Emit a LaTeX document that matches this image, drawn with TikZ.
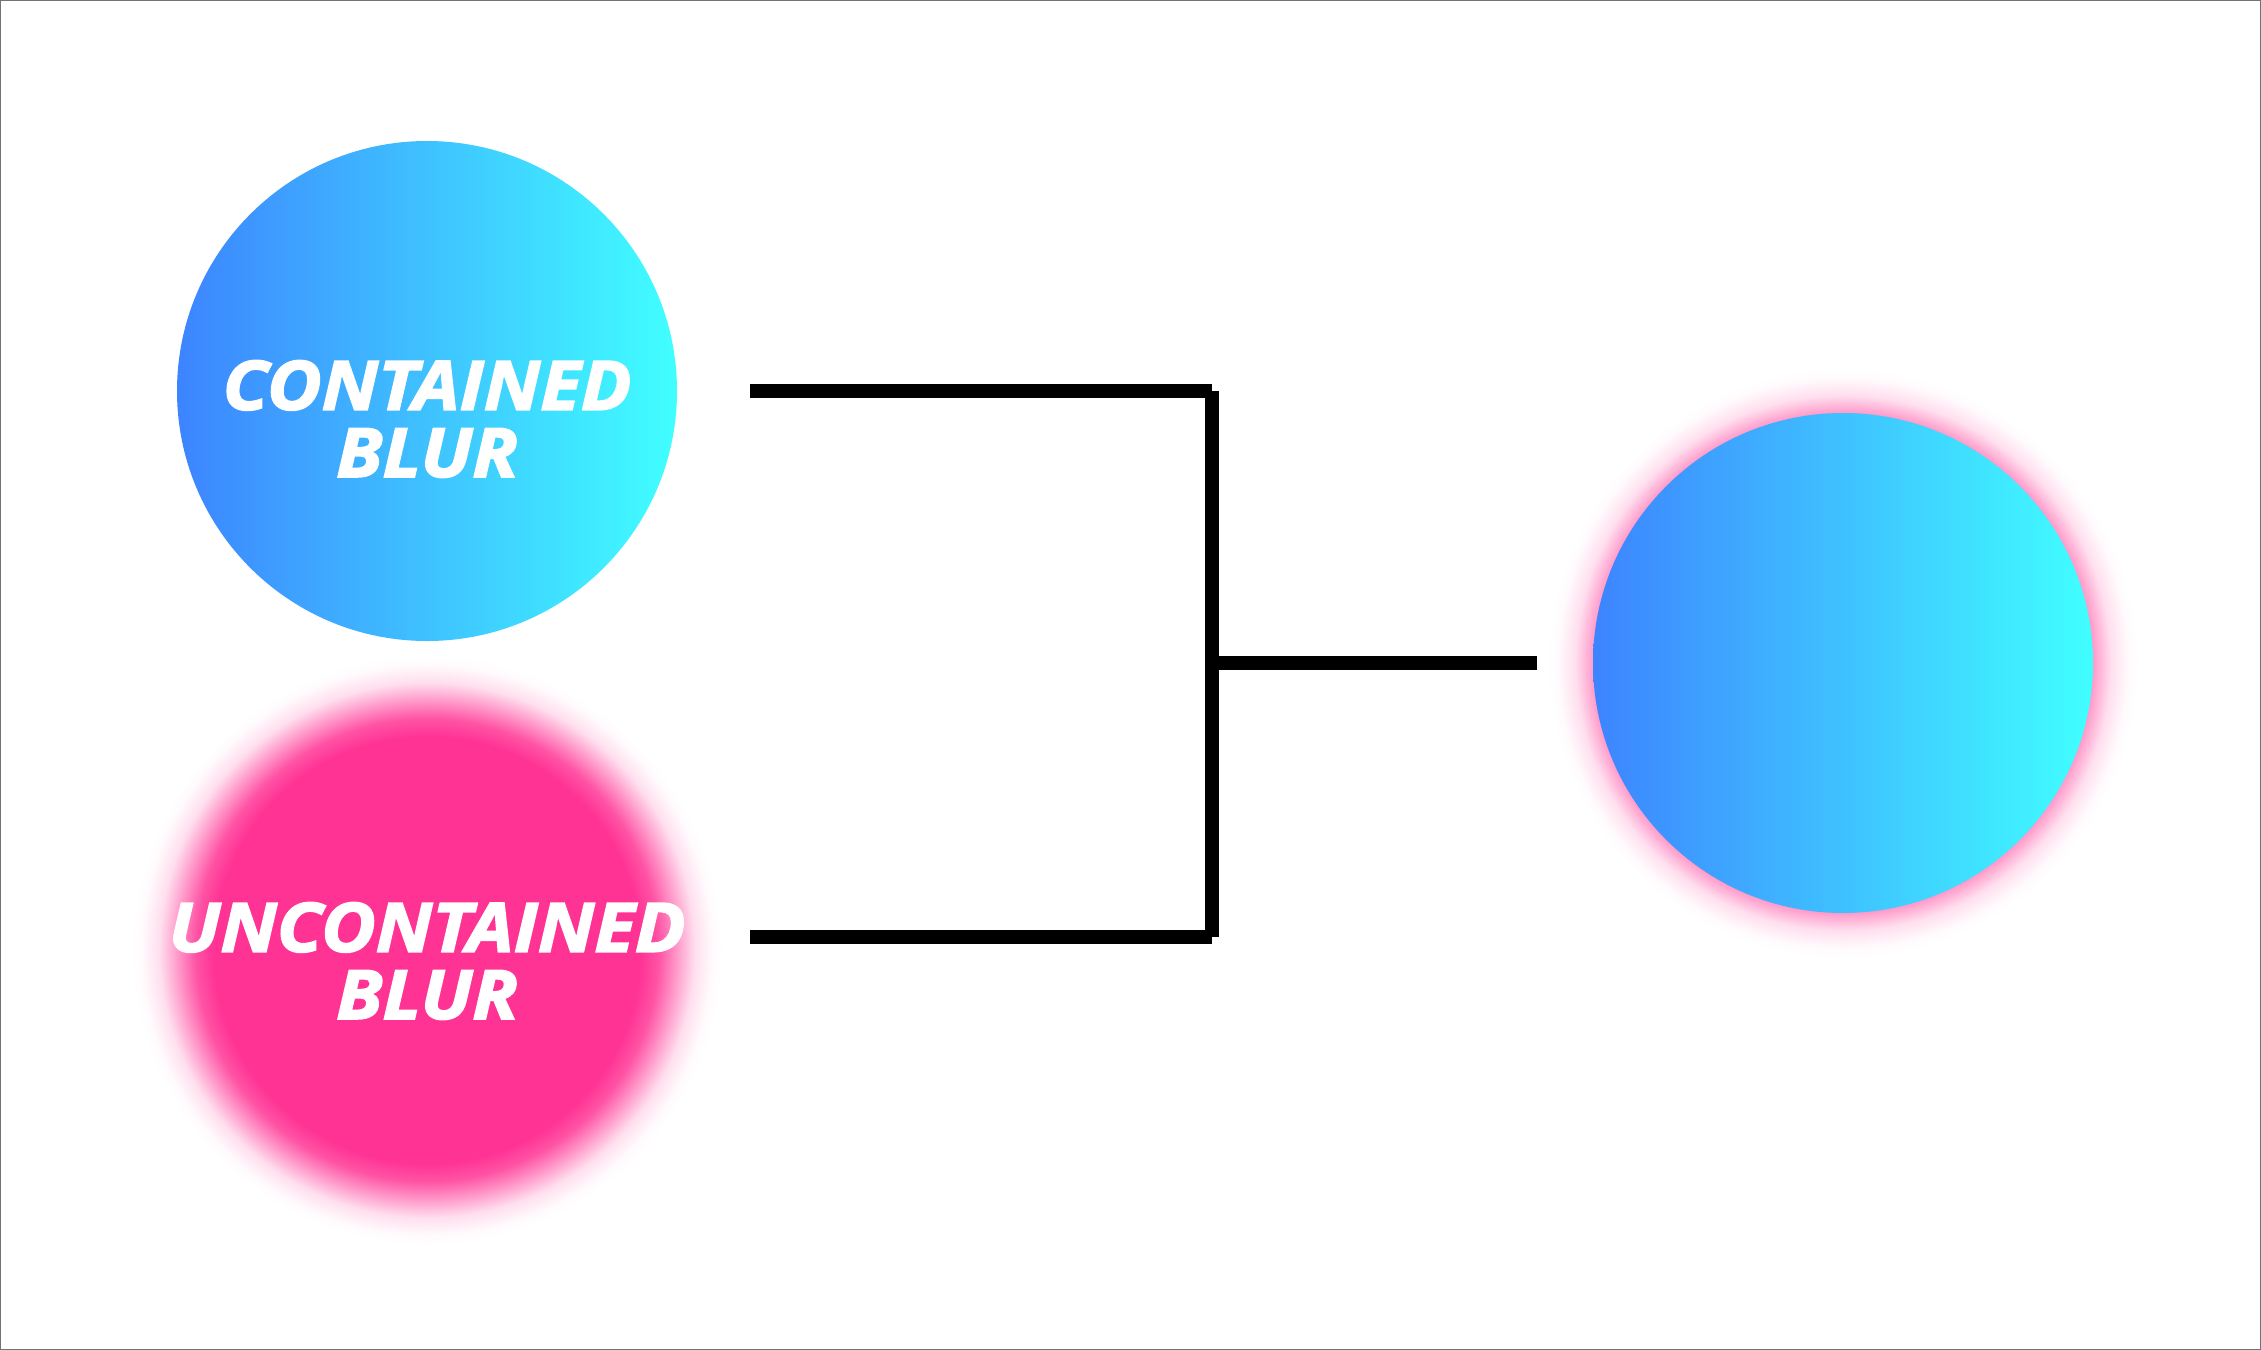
\documentclass[tikz,border=0pt]{standalone}
\usepackage{fontspec}
\newfontfamily\blurfont{Open Sans}[FakeStretch=1.1,BoldItalicFeatures={FakeBold=2.5}]
\usetikzlibrary{shapes.geometric}

\definecolor{blurpink}{RGB}{255,51,148}
\definecolor{discblue}{RGB}{61,132,255}
\definecolor{disccyan}{RGB}{64,255,255}

\pgfdeclarehorizontalshading{discgrad}{100bp}{%
color(0bp)=(discblue); color(25bp)=(discblue); color(75bp)=(disccyan); color(100bp)=(disccyan)}
\pgfdeclareradialshading{pinkblur}{\pgfpoint{0bp}{0bp}}{%
color(0bp)=(blurpink); color(17.8bp)=(blurpink); color(19.3bp)=(blurpink!84);
color(20.8bp)=(blurpink!50); color(22.3bp)=(blurpink!16); color(23.8bp)=(blurpink!2);
color(24.6bp)=(white); color(50bp)=(white)}

\begin{document}
\begin{tikzpicture}[x=0.25pt,y=-0.25pt,
  bluedisc/.style={circle,inner sep=0pt,minimum size=125pt,shade,shading=discgrad},
  blurdisc/.style={circle,inner sep=0pt,minimum size=150pt,shade,shading=pinkblur},
  blurtext/.style={inner sep=0pt,align=center,text=white,font=\blurfont\bfseries\itshape\fontsize{17}{16.8}\selectfont},
  link/.style={line width=3.4pt,line cap=butt}]
\path[use as bounding box] (0,0) rectangle (2261,1350);
\draw[black!55,line width=0.3pt] (0.5,0.5) rectangle (2260.5,1349.5);
% discs
\node[bluedisc] (contained) at (427,391) {};
\node[blurdisc] (uncontained) at (427,950) {};
\node[blurdisc] (glow) at (1843,663) {};
\node[bluedisc] (result) at (1843,663) {};
\node[blurtext] (containedlabel) at (427,419) {CONTAINED\\BLUR};
\node[blurtext] (uncontainedlabel) at (427,961) {UNCONTAINED\\BLUR};
% bracket
\coordinate (topstart) at (750,391);
\coordinate (botstart) at (750,937);
\coordinate (split) at (1212,663);
\coordinate (merge) at (1537,663);
\draw[link] (topstart) -- (topstart -| split);
\draw[link] (botstart) -- (botstart -| split);
\draw[link] (topstart -| split) -- (botstart -| split);
\draw[link] (split) -- (merge);
\end{tikzpicture}
\end{document}
